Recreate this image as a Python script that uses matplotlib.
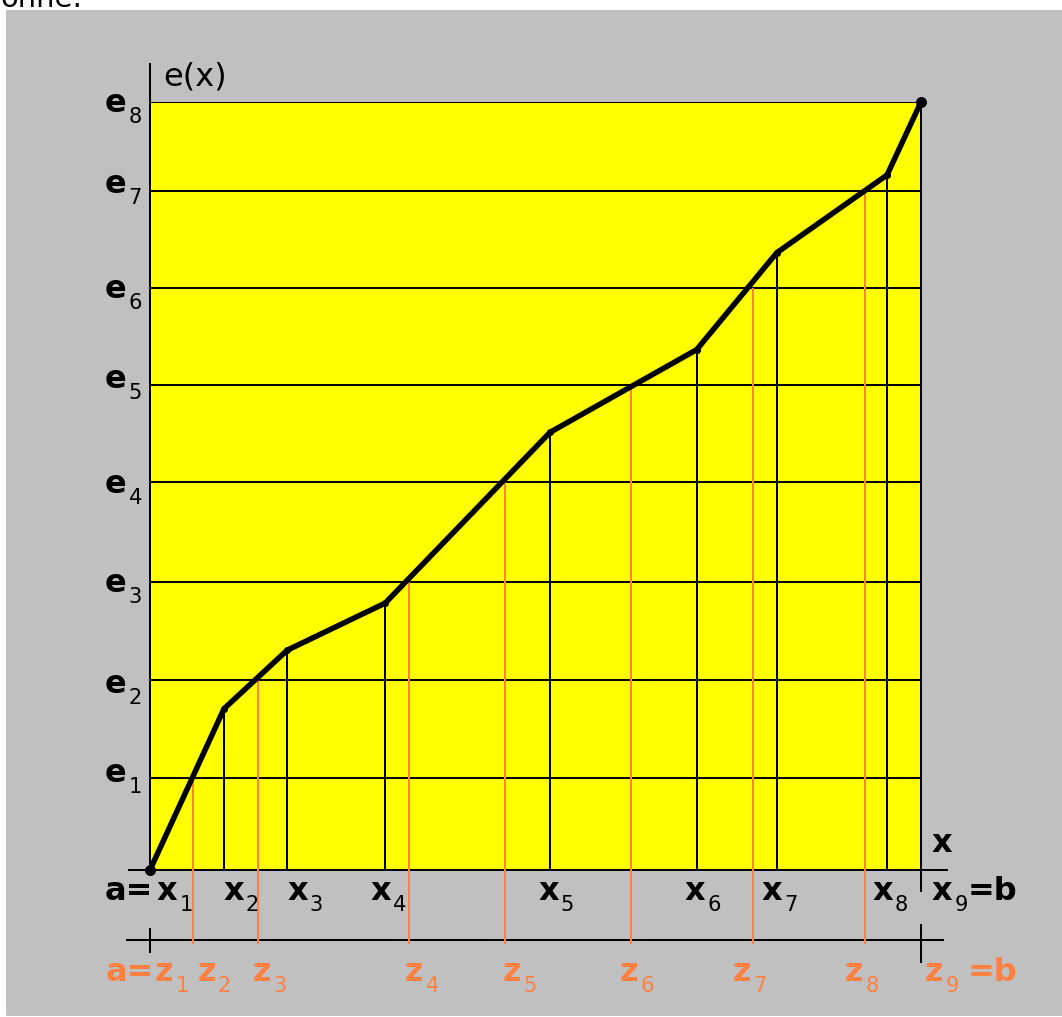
import matplotlib.pyplot as plt
from matplotlib.patches import Rectangle

plt.rcParams['font.family'] = 'DejaVu Sans'

# points x_1..x_9 of [a, b] (a = 0, b = 1) and e(x) at each one
x_pts = [0.0, 0.096, 0.178, 0.305, 0.519, 0.709, 0.813, 0.956, 1.0]
e_pts = [0.0, 1.68, 2.29, 2.78, 4.56, 5.42, 6.43, 7.24, 8.0]

# levels e_1..e_8
e_levels = [0.96, 1.98, 3.00, 4.04, 5.05, 6.06, 7.07, 8.00]

# z_1..z_9 (z_k = where e(x) reaches e_(k-1))
z_pts = [0.0, 0.056, 0.140, 0.336, 0.460, 0.624, 0.782, 0.927, 1.0]

subs = ['1', '2', '3', '4', '5', '6', '7', '8', '9']

# label nudges in pixels (dpi = 72 so points == pixels)
x_lab_dx = [7, -1, 0, -15, -12, -12, -15, -15, 11]
z_lab_dx = [5, 4, -5, -4, -2, -11, -20, -20, 4]
e_lab_dy = [-4, -13, -10, -11, -3, -10, -2, -10]

orange = '#ff8040'
W, H = 1062, 1017
fs = 32
fs_sub = 21

fig = plt.figure(figsize=(W / 72, H / 72), dpi=72, facecolor='white')
fig.add_artist(Rectangle((6 / W, 2 / H), (W - 6) / W, (H - 12) / H,
                         transform=fig.transFigure, color='#c0c0c0', zorder=0))
# cut off line of text above the picture
fig.text(0.0, 1 - 7 / H, 'onne:', fontsize=29, va='baseline', ha='left')

ax = fig.add_axes([150 / W, (H - 870) / H, 771 / W, 768 / H])
ax.set_xlim(0, 1)
ax.set_ylim(0, 8)
ax.set_facecolor('#ffff00')
ax.set_xticks([])
ax.set_yticks([])
for s in ax.spines.values():
    s.set_visible(False)

px_x = 1 / 771   # one pixel in x data units
px_y = 8 / 768   # one pixel in y data units
y_low = -70 * px_y

# grid of e levels
ax.hlines(e_levels, 0, 1, color='black', lw=2, zorder=2)

# axes
ax.vlines(0, 0, 8 + 39 * px_y, color='black', lw=2, clip_on=False, zorder=3)
ax.hlines(0, -22 * px_x, 1 + 27 * px_x, color='black', lw=2, clip_on=False, zorder=3)
ax.vlines(1, -22 * px_y, 8, color='black', lw=2, clip_on=False, zorder=3)

# lower z axis
ax.hlines(y_low, -24 * px_x, 1 + 23 * px_x, color='black', lw=2, clip_on=False)
ax.vlines(0, y_low + 12 * px_y, y_low - 13 * px_y, color='black', lw=2, clip_on=False)
ax.vlines(1, y_low + 16 * px_y, y_low - 23 * px_y, color='black', lw=2, clip_on=False)

# vertical lines
ax.vlines(x_pts[1:-1], 0, e_pts[1:-1], color='black', lw=2, zorder=3)
ax.vlines(z_pts[1:-1], y_low - 4 * px_y, e_levels[:7], color=orange, lw=2,
          clip_on=False, zorder=3)

# the curve
ax.plot(x_pts, e_pts, color='black', lw=5.5, solid_capstyle='round', clip_on=False, zorder=5)
ax.plot(x_pts[1:-1], e_pts[1:-1], 'o', color='black', ms=6, zorder=6)
ax.plot([x_pts[0], x_pts[-1]], [e_pts[0], e_pts[-1]], 'o', color='black', ms=10,
        clip_on=False, zorder=6)


def lab(text, x, y, dx, dy, color='black', ha='left', weight='bold', size=fs):
    return ax.annotate(text, xy=(x, y), xytext=(dx, dy), textcoords='offset points',
                       ha=ha, va='baseline', color=color, fontsize=size,
                       fontweight=weight, annotation_clip=False)


def sub_lab(main, sub, x, y, dx, dy, color='black'):
    t = lab(main, x, y, dx, dy, color=color)
    # subscript hangs off the bottom right of the main letter
    ax.annotate(sub, xy=(1, 0), xycoords=t, xytext=(2, -4), textcoords='offset points',
                ha='left', va='baseline', color=color, fontsize=fs_sub)
    return t


# e labels
for lev, s, dy in zip(e_levels, subs, e_lab_dy):
    sub_lab('e', s, 0, lev, -45, dy)

lab('e(x)', 0, 8, 13, 16, weight='normal')
lab('x', 1, 0, 11, 18)

# x labels
for xv, s, dx in zip(x_pts, subs, x_lab_dx):
    sub_lab('x', s, xv, 0, dx, -30)
lab('a=', 0, 0, 3, -30, ha='right')
lab('=b', 1, 0, 47, -30)

# z labels
for zv, s, dx in zip(z_pts, subs, z_lab_dx):
    sub_lab('z', s, zv, y_low, dx, -41, color=orange)
lab('a=', 0, y_low, 4, -41, color=orange, ha='right')
lab('=b', 1, y_low, 47, -41, color=orange)

fig.savefig('out.png', dpi=72, facecolor='white')
